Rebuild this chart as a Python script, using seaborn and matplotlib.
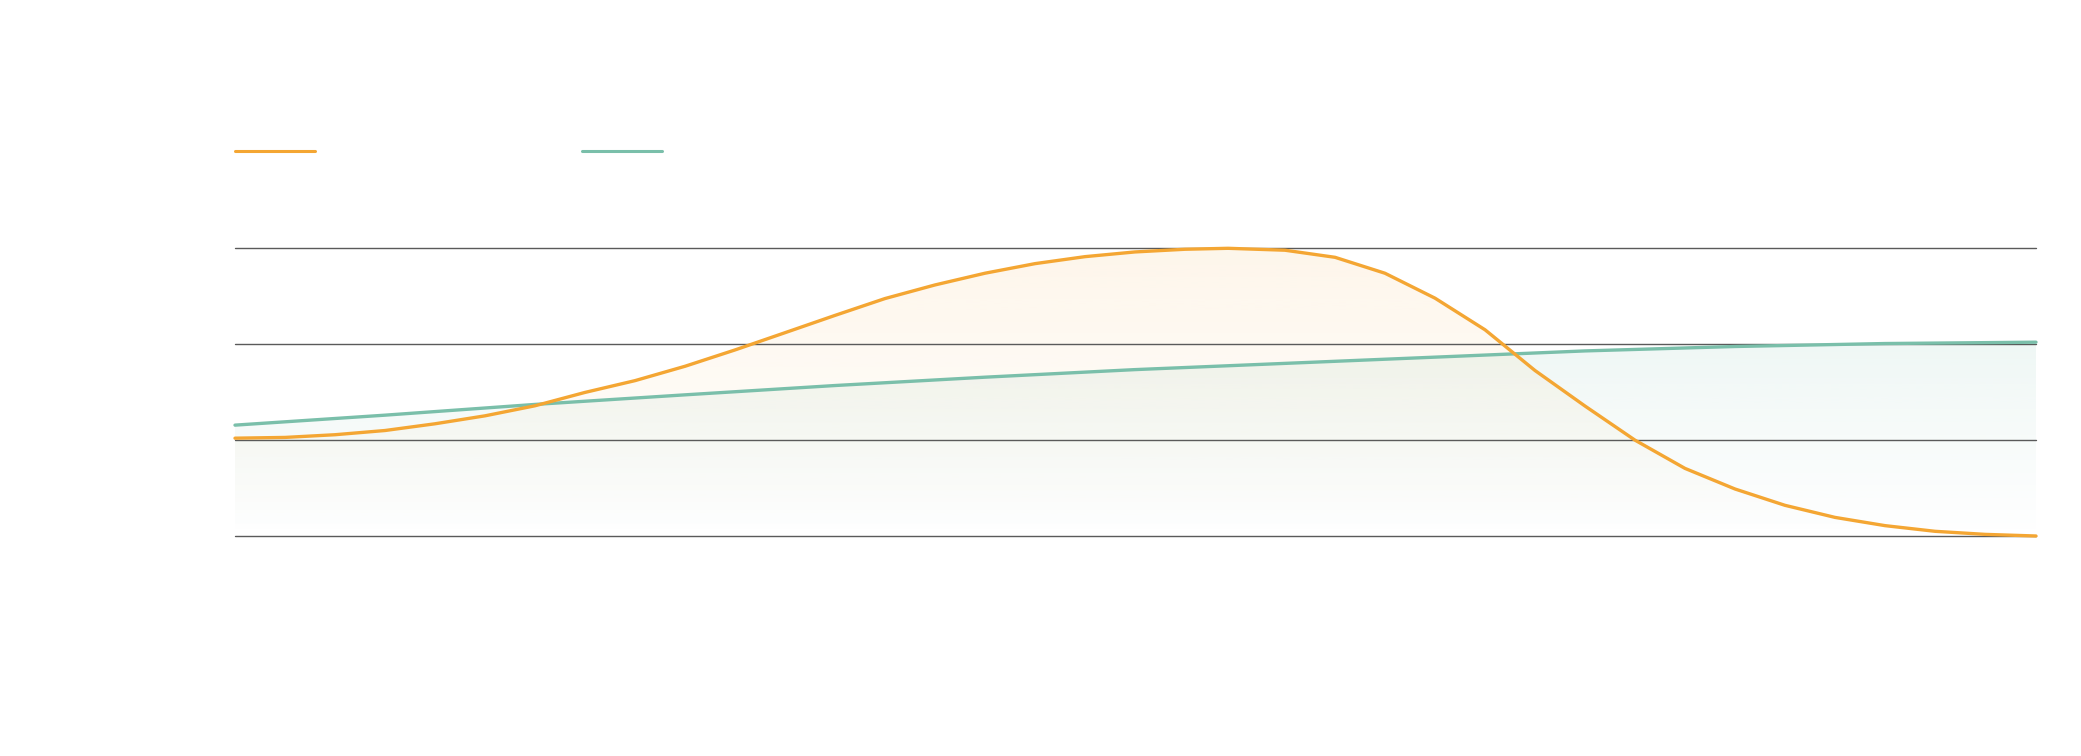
import numpy as np
import pandas as pd
import matplotlib
matplotlib.use("Agg")
import matplotlib.pyplot as plt
from matplotlib.lines import Line2D
import seaborn as sns

# ---- data ----
orange_x = [0, 2.78, 5.55, 8.33, 11.1, 13.88, 16.66, 19.43, 22.21, 24.99, 27.76, 30.54,
            33.31, 36.09, 38.87, 41.64, 44.42, 47.20, 49.97, 52.75, 55.14, 58.30, 61.08,
            63.85, 66.63, 69.41, 72.18, 74.96, 77.73, 80.51, 83.29, 86.06, 88.84, 91.62,
            94.39, 97.17, 100]
orange_y = [1.02, 1.028, 1.056, 1.10, 1.17, 1.253, 1.358, 1.497, 1.62, 1.77, 1.94, 2.12,
            2.30, 2.476, 2.618, 2.74, 2.84, 2.913, 2.962, 2.99, 3.0, 2.98, 2.906,
            2.74, 2.48, 2.15, 1.726, 1.355, 1.0, 0.705, 0.49, 0.32, 0.194, 0.108,
            0.049, 0.017, 0.0]
teal_x = [0, 8.33, 16.66, 24.99, 33.31, 41.64, 49.97, 58.30, 66.63, 74.96, 83.29, 91.62, 100]
teal_y = [1.156, 1.26, 1.372, 1.472, 1.569, 1.656, 1.735, 1.80, 1.865, 1.93, 1.976, 2.007, 2.021]
y_ticks = [0, 1, 2, 3]

ORANGE = "#F4A633"
TEAL = "#7ABFAA"
GRID = "#5a5a5a"

sns.set_theme(style="white")
W, H, DPI = 2081, 756, 100
fig = plt.figure(figsize=(W / DPI, H / DPI), dpi=DPI)
fig.patch.set_facecolor("white")

left, right = 235 / W, 2036 / W
bottom, top = 1 - 536 / H, 1 - 248.3 / H
ax = fig.add_axes([left, bottom, right - left, top - bottom])
ax.set_facecolor("none")

ax.set_xlim(0, 100)
ax.set_ylim(0, 3)
ax.set_yticks(y_ticks)
ax.set_xticks([])
ax.tick_params(left=False, bottom=False, labelleft=False, labelbottom=False)
for s in ax.spines.values():
    s.set_visible(False)
ax.yaxis.grid(True, color=GRID, linewidth=1.0, zorder=2)
for gl in ax.yaxis.get_gridlines():
    gl.set_clip_on(False)
ax.set_axisbelow(False)


def gradient_fill(x, y, color, alpha_top, zorder):
    poly = ax.fill_between(x, y, 0, facecolor="none", edgecolor="none", zorder=zorder)
    rgb = matplotlib.colors.to_rgb(color)
    n = 256
    img = np.zeros((n, 1, 4))
    img[:, 0, 0:3] = rgb
    img[:, 0, 3] = np.linspace(alpha_top, 0.0, n)
    ymax = max(y)
    im = ax.imshow(img, aspect="auto", extent=[0, 100, 0, ymax], origin="upper",
                   zorder=zorder, interpolation="bilinear")
    path = poly.get_paths()[0]
    im.set_clip_path(path, transform=ax.transData)


gradient_fill(teal_x, teal_y, TEAL, 0.12, 1)
gradient_fill(orange_x, orange_y, ORANGE, 0.10, 1.1)

df_o = pd.DataFrame({"x": orange_x, "y": orange_y})
df_t = pd.DataFrame({"x": teal_x, "y": teal_y})
sns.lineplot(data=df_t, x="x", y="y", ax=ax, color=TEAL, linewidth=2.4, zorder=3,
             estimator=None, sort=False)
sns.lineplot(data=df_o, x="x", y="y", ax=ax, color=ORANGE, linewidth=2.4, zorder=4,
             estimator=None, sort=False)
for ln in ax.lines:
    ln.set_clip_on(False)
    ln.set_solid_joinstyle("round")
ax.set_xlabel("")
ax.set_ylabel("")
ax.set_xlim(0, 100)
ax.set_ylim(0, 3)

# legend symbols (no label text in the reference)
ly = 1 - 151.3 / H
fig.add_artist(Line2D([235 / W, 315 / W], [ly, ly], color=ORANGE, linewidth=2.2,
                      transform=fig.transFigure))
fig.add_artist(Line2D([582 / W, 662 / W], [ly, ly], color=TEAL, linewidth=2.2,
                      transform=fig.transFigure))

fig.savefig("out.png", dpi=DPI, facecolor="white")
